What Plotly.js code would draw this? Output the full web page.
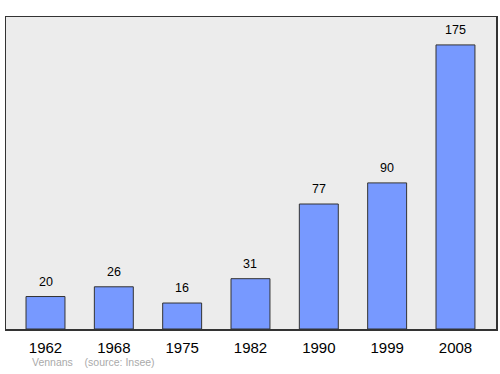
<!DOCTYPE html>
<html><head><meta charset="utf-8">
<script src="https://cdn.plot.ly/plotly-3.0.1.min.js"></script>
<style>html,body{margin:0;padding:0;background:#fff}</style>
</head><body>
<div id="chart" style="width:500px;height:374px"></div>
<script>
var years = ["1962","1968","1975","1982","1990","1999","2008"];
var population = [20, 26, 16, 31, 77, 90, 175];
var sourceText = "Vennans&nbsp;&nbsp;&nbsp;&nbsp;(source: Insee)";

var FONT = "Liberation Sans, Arial, sans-serif";
var idx = years.map(function(_, i){ return i; });
var trace = {
  type: "bar",
  x: idx,
  y: population,
  width: 0.57,
  marker: {color: "#7799ff", line: {color: "#333333", width: 1}},
  hoverinfo: "skip"
};
var annotations = idx.map(function(i){
  return {x: i, y: population[i], xref: "x", yref: "y", text: String(population[i]),
    showarrow: false, yanchor: "bottom", yshift: 6,
    font: {family: FONT, size: 12.5, color: "#000"}};
});
annotations.push({x: 0, y: 0, xref: "paper", yref: "paper", xanchor: "left", yanchor: "top",
  xshift: 24, yshift: -25, text: sourceText, showarrow: false,
  font: {family: FONT, size: 10.5, color: "#aaaaaa"}});

var layout = {
  width: 500, height: 374,
  margin: {l: 6, r: 4, t: 17, b: 45},
  paper_bgcolor: "#ffffff",
  plot_bgcolor: "#ececec",
  showlegend: false,
  xaxis: {range: [-0.578, 6.593], tickvals: idx, ticktext: years, showgrid: false, zeroline: false,
    showline: true, mirror: true, linecolor: "#333333", linewidth: 1.5, ticks: "",
    tickfont: {family: FONT, size: 15, color: "#000"}, ticklabelstandoff: 4},
  yaxis: {range: [0, 192.2], showgrid: false, zeroline: false, showticklabels: false,
    showline: true, mirror: true, linecolor: "#333333", linewidth: 1.5, ticks: ""},
  annotations: annotations
};
Plotly.newPlot("chart", [trace], layout, {displayModeBar: false, staticPlot: true});
</script>
</body></html>
